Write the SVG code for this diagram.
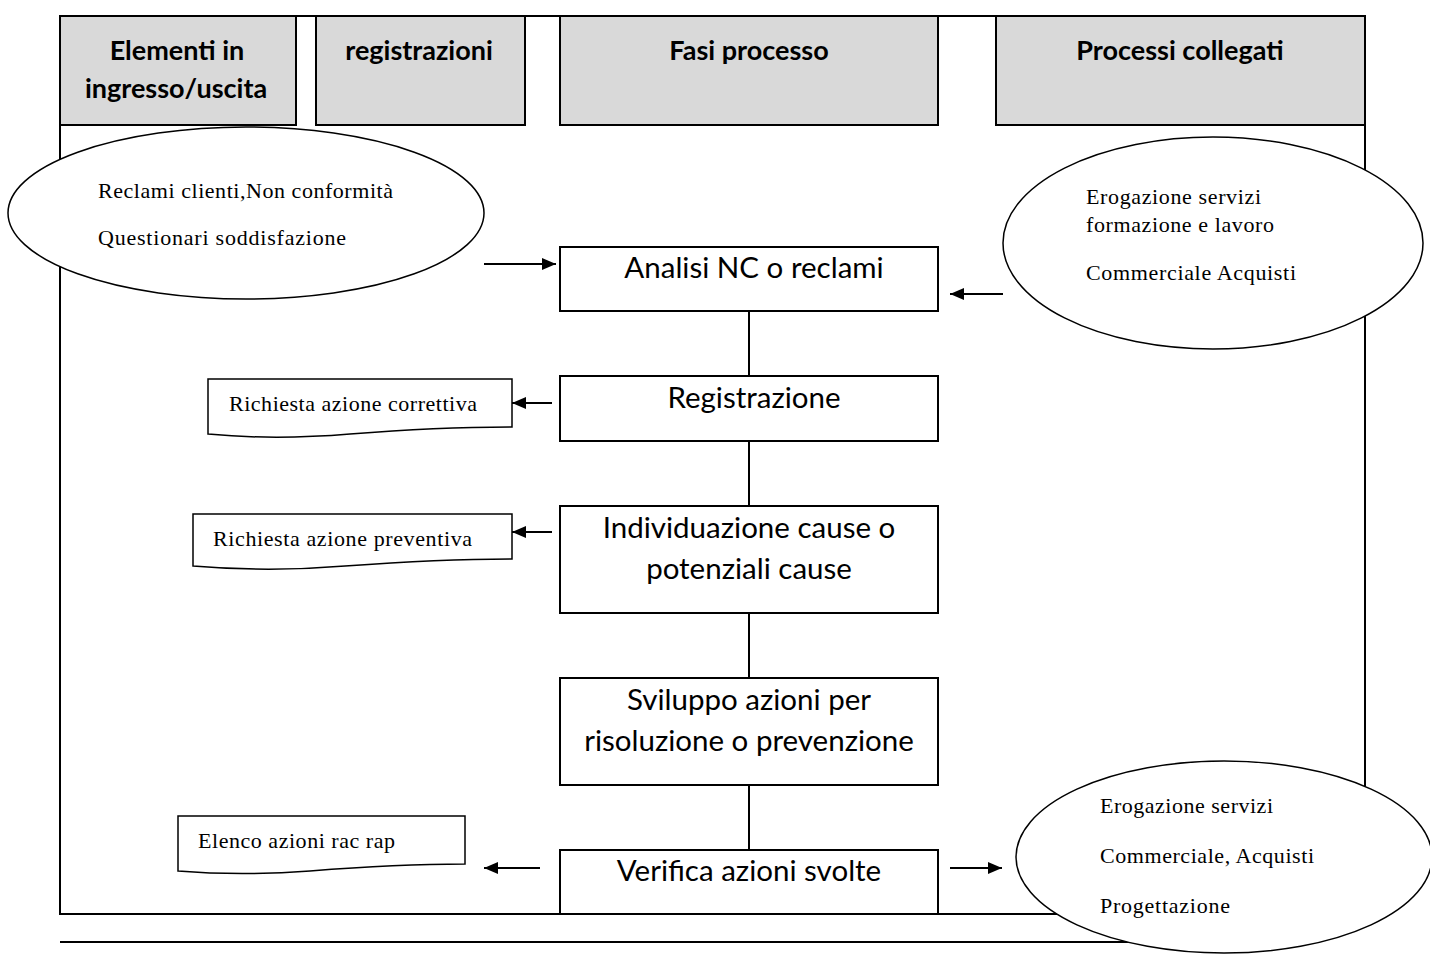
<svg xmlns="http://www.w3.org/2000/svg" width="1430" height="954" viewBox="0 0 1430 954">
  <style>
    .frame { fill: none; stroke: #000; stroke-width: 2; }
    .head { fill: #d9d9d9; stroke: #000; stroke-width: 2; }
    .head-text { font-family: Lato, "Liberation Sans", sans-serif; font-weight: bold; font-size: 27px; fill: #000; text-anchor: middle; }
    .step { fill: #fff; stroke: #000; stroke-width: 2; }
    .step-text { font-family: Lato, "Liberation Sans", sans-serif; font-size: 29.5px; fill: #000; text-anchor: middle; }
    .oval { fill: #fff; stroke: #000; stroke-width: 1.5; }
    .doc { fill: #fff; stroke: #000; stroke-width: 1.5; }
    .note { font-family: "Liberation Serif", "DejaVu Serif", serif; font-size: 22px; fill: #000; }
    .link { fill: none; stroke: #000; stroke-width: 2; }
    .rule { stroke: #000; stroke-width: 2; }
  </style>
  <defs>
    <marker id="arrow" viewBox="0 0 14 12" refX="14" refY="6" markerWidth="14" markerHeight="12" orient="auto" markerUnits="userSpaceOnUse">
      <path d="M0,0 L14,6 L0,12 Z" fill="#000"/>
    </marker>
  </defs>

  <rect width="1430" height="954" fill="#fff"/>

  <!-- page frame and footer rule -->
  <g id="frame">
    <rect class="frame" x="60" y="16" width="1305" height="898"/>
    <line class="rule" x1="60" y1="942" x2="1200" y2="942"/>
  </g>

  <!-- column headers -->
  <g id="head-elementi">
    <rect class="head" x="60" y="16" width="236" height="109"/>
    <text class="head-text" x="177" y="60">Elementi in</text>
    <text class="head-text" x="176" y="98">ingresso/uscita</text>
  </g>
  <g id="head-registrazioni">
    <rect class="head" x="316" y="16" width="209" height="109"/>
    <text class="head-text" x="419" y="60">registrazioni</text>
  </g>
  <g id="head-fasi">
    <rect class="head" x="560" y="16" width="378" height="109"/>
    <text class="head-text" x="749" y="60">Fasi processo</text>
  </g>
  <g id="head-processi">
    <rect class="head" x="996" y="16" width="369" height="109"/>
    <text class="head-text" x="1180" y="60">Processi collegati</text>
  </g>

  <!-- connectors -->
  <g id="connectors">
    <line class="link" x1="749" y1="311" x2="749" y2="376"/>
    <line class="link" x1="749" y1="441" x2="749" y2="506"/>
    <line class="link" x1="749" y1="613" x2="749" y2="678"/>
    <line class="link" x1="749" y1="785" x2="749" y2="850"/>
    <line class="link" x1="484" y1="264" x2="556" y2="264" marker-end="url(#arrow)"/>
    <line class="link" x1="1003" y1="294" x2="950" y2="294" marker-end="url(#arrow)"/>
    <line class="link" x1="552" y1="403" x2="512" y2="403" marker-end="url(#arrow)"/>
    <line class="link" x1="552" y1="532" x2="512" y2="532" marker-end="url(#arrow)"/>
    <line class="link" x1="540" y1="868" x2="484" y2="868" marker-end="url(#arrow)"/>
    <line class="link" x1="950" y1="868" x2="1002" y2="868" marker-end="url(#arrow)"/>
  </g>

  <!-- process steps -->
  <g id="step-analisi">
    <rect class="step" x="560" y="247" width="378" height="64"/>
    <text class="step-text" x="754" y="278">Analisi NC o reclami</text>
  </g>
  <g id="step-registrazione">
    <rect class="step" x="560" y="376" width="378" height="65"/>
    <text class="step-text" x="754" y="408">Registrazione</text>
  </g>
  <g id="step-individuazione">
    <rect class="step" x="560" y="506" width="378" height="107"/>
    <text class="step-text" x="749" y="538">Individuazione cause o</text>
    <text class="step-text" x="749" y="579">potenziali cause</text>
  </g>
  <g id="step-sviluppo">
    <rect class="step" x="560" y="678" width="378" height="107"/>
    <text class="step-text" x="749" y="710">Sviluppo azioni per</text>
    <text class="step-text" x="749" y="751">risoluzione o prevenzione</text>
  </g>
  <g id="step-verifica">
    <rect class="step" x="560" y="850" width="378" height="64"/>
    <text class="step-text" x="749" y="881">Verifica azioni svolte</text>
  </g>

  <!-- inputs -->
  <g id="input-reclami">
    <ellipse class="oval" cx="246" cy="213" rx="238" ry="86"/>
    <text class="note" x="98" y="198" textLength="295" lengthAdjust="spacing">Reclami clienti,Non conformità</text>
    <text class="note" x="98" y="245" textLength="248" lengthAdjust="spacing">Questionari soddisfazione</text>
  </g>
  <g id="input-processi">
    <ellipse class="oval" cx="1213" cy="243" rx="210" ry="106"/>
    <text class="note" x="1086" y="204" textLength="175" lengthAdjust="spacing">Erogazione servizi</text>
    <text class="note" x="1086" y="232" textLength="188" lengthAdjust="spacing">formazione e lavoro</text>
    <text class="note" x="1086" y="280" textLength="210" lengthAdjust="spacing">Commerciale Acquisti</text>
  </g>

  <!-- records -->
  <g id="doc-correttiva">
    <path class="doc" d="M208,379 H512 V427 C450,427 400,430 350,434 C290,439 250,438 208,434 Z"/>
    <text class="note" x="229" y="411" textLength="248" lengthAdjust="spacing">Richiesta azione correttiva</text>
  </g>
  <g id="doc-preventiva">
    <path class="doc" d="M193,514 H512 V559 C450,559 400,562 345,566 C285,571 240,570 193,566 Z"/>
    <text class="note" x="213" y="546" textLength="259" lengthAdjust="spacing">Richiesta azione preventiva</text>
  </g>
  <g id="doc-elenco">
    <path class="doc" d="M178,816 H465 V864 C405,864 360,867 310,871 C255,875 215,874 178,871 Z"/>
    <text class="note" x="198" y="848" textLength="197" lengthAdjust="spacing">Elenco azioni rac rap</text>
  </g>

  <!-- outputs -->
  <g id="output-processi">
    <ellipse class="oval" cx="1224" cy="857" rx="208" ry="96"/>
    <text class="note" x="1100" y="813" textLength="173" lengthAdjust="spacing">Erogazione servizi</text>
    <text class="note" x="1100" y="863" textLength="214" lengthAdjust="spacing">Commerciale, Acquisti</text>
    <text class="note" x="1100" y="913" textLength="130" lengthAdjust="spacing">Progettazione</text>
  </g>
</svg>
